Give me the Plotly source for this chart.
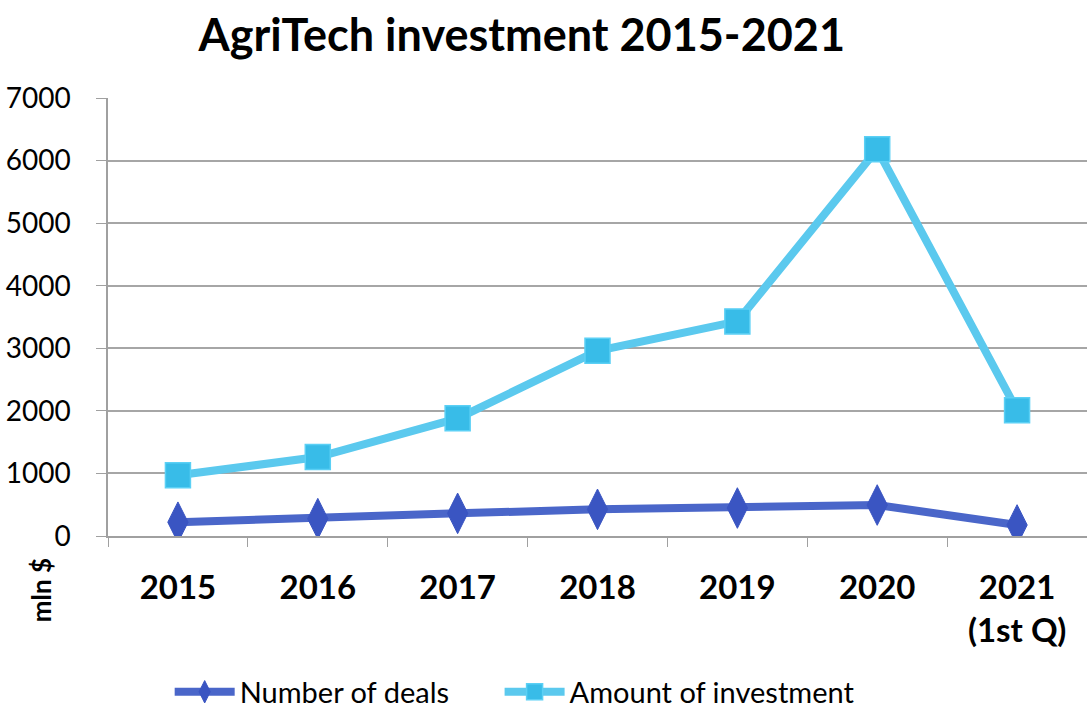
import plotly.graph_objects as go

# AgriTech investment data, 2015 to Q1 2021
years = ["2015", "2016", "2017", "2018", "2019", "2020", "2021<br>(1st Q)"]
number_of_deals = [220, 277, 362, 426, 447, 495, 176]
amount_of_investment = [970, 1262, 1880, 2960, 3430, 6180, 2010]
y_ticks = [0, 1000, 2000, 3000, 4000, 5000, 6000, 7000]

FONT = "Lato, 'Open Sans', sans-serif"

fig = go.Figure()

fig.add_trace(go.Scatter(
    x=years, y=number_of_deals, name="Number of deals",
    mode="lines+markers", legend="legend",
    line=dict(color="#4A66C9", width=8),
    marker=dict(symbol="diamond-tall", size=29, color="#3A55C2",
                line=dict(color="#3A55C2", width=1)),
))

fig.add_trace(go.Scatter(
    x=years, y=amount_of_investment, name="Amount of investment",
    mode="lines+markers", legend="legend2",
    line=dict(color="#5BC9EE", width=8),
    marker=dict(symbol="square", size=25, color="#38BCE8",
                line=dict(color="#5BD0F5", width=1.5)),
))

legend_style = dict(orientation="h", xanchor="left", y=-0.356, yanchor="middle",
                    font=dict(family=FONT, size=29, color="black"),
                    itemwidth=60, bgcolor="rgba(0,0,0,0)")

fig.update_layout(
    width=1087, height=711,
    paper_bgcolor="white", plot_bgcolor="white",
    margin=dict(l=108, r=0, t=98, b=175, autoexpand=False),
    title=dict(text="<b>AgriTech investment 2015-2021</b>",
               x=0.48, xanchor="center", y=0.951, yanchor="middle",
               font=dict(family=FONT, size=45, color="black")),
    font=dict(family=FONT, color="black"),
    showlegend=True,
    legend=dict(x=0.063, **legend_style),
    legend2=dict(x=0.400, **legend_style),
    xaxis=dict(
        type="category", tickson="boundaries", ticks="outside", ticklen=9,
        tickcolor="#A0A0A0", showline=True, linecolor="#A0A0A0", linewidth=1.5,
        showgrid=False, range=[-0.5, 6.5], ticklabelstandoff=22, automargin=False,
        tickfont=dict(family=FONT, size=33, color="black", weight="bold"),
    ),
    yaxis=dict(
        range=[0, 7000], tickvals=y_ticks, ticks="outside", ticklen=10,
        tickcolor="#A0A0A0", showline=True, linecolor="#A0A0A0", linewidth=1.5,
        showgrid=True, gridcolor="#A6A6A6", gridwidth=1.5, zeroline=False,
        ticklabelstandoff=20, automargin=False,
        tickfont=dict(family=FONT, size=28, color="black"),
    ),
    annotations=[dict(
        text="<b>mln $</b>", textangle=-90, xref="paper", yref="paper",
        x=-0.069, y=-0.123, xanchor="center", yanchor="middle", showarrow=False,
        font=dict(family=FONT, size=26, color="black"),
    )],
)

fig.write_html("out.html")
